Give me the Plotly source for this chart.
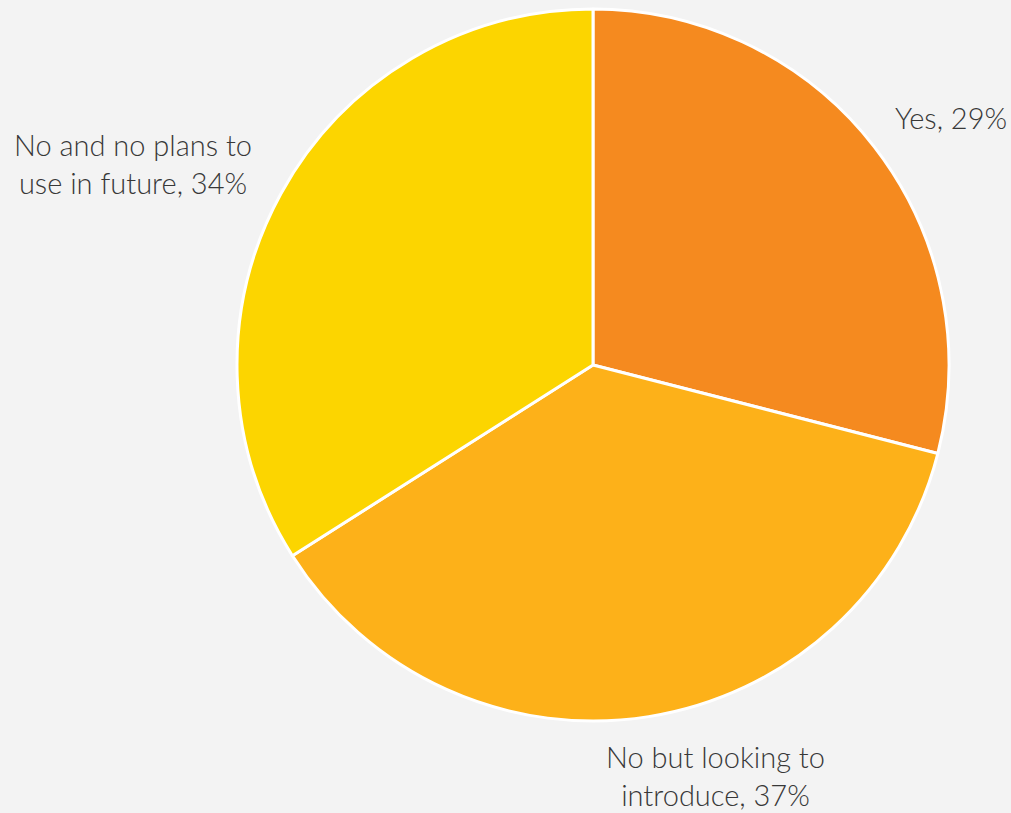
import plotly.graph_objects as go

labels = ["Yes", "No but looking to introduce", "No and no plans to use in future"]
values = [29, 37, 34]
colors = ["#F58A1F", "#FDB119", "#FCD500"]
label_text = ["Yes, 29%", "No but looking to<br>introduce, 37%", "No and no plans to<br>use in future, 34%"]

W, H = 1011, 813
cx, cy, r = 593, 365, 356

fig = go.Figure(go.Pie(
    labels=labels,
    values=values,
    sort=False,
    direction="clockwise",
    rotation=0,
    marker=dict(colors=colors, line=dict(color="white", width=3)),
    textinfo="none",
    hoverinfo="label+percent",
    domain=dict(x=[(cx - r) / W, (cx + r) / W], y=[(H - cy - r) / H, (H - cy + r) / H]),
    showlegend=False,
))

# label anchors in pixel space (x, y of text centre, horizontal alignment)
anchors = [(1009, 117, "right"), (715, 775, "center"), (133, 164, "center")]
for txt, (px, py, align) in zip(label_text, anchors):
    fig.add_annotation(
        x=px / W, y=1 - py / H, xref="paper", yref="paper",
        text=txt, showarrow=False, align=align,
        xanchor="right" if align == "right" else "center", yanchor="middle",
        font=dict(family="Lato", size=29, color="#383838", weight=300),
    )

fig.update_layout(
    width=W, height=H,
    margin=dict(l=0, r=0, t=0, b=0),
    paper_bgcolor="#F3F3F3",
    plot_bgcolor="#F3F3F3",
)

fig.write_html("out.html")
